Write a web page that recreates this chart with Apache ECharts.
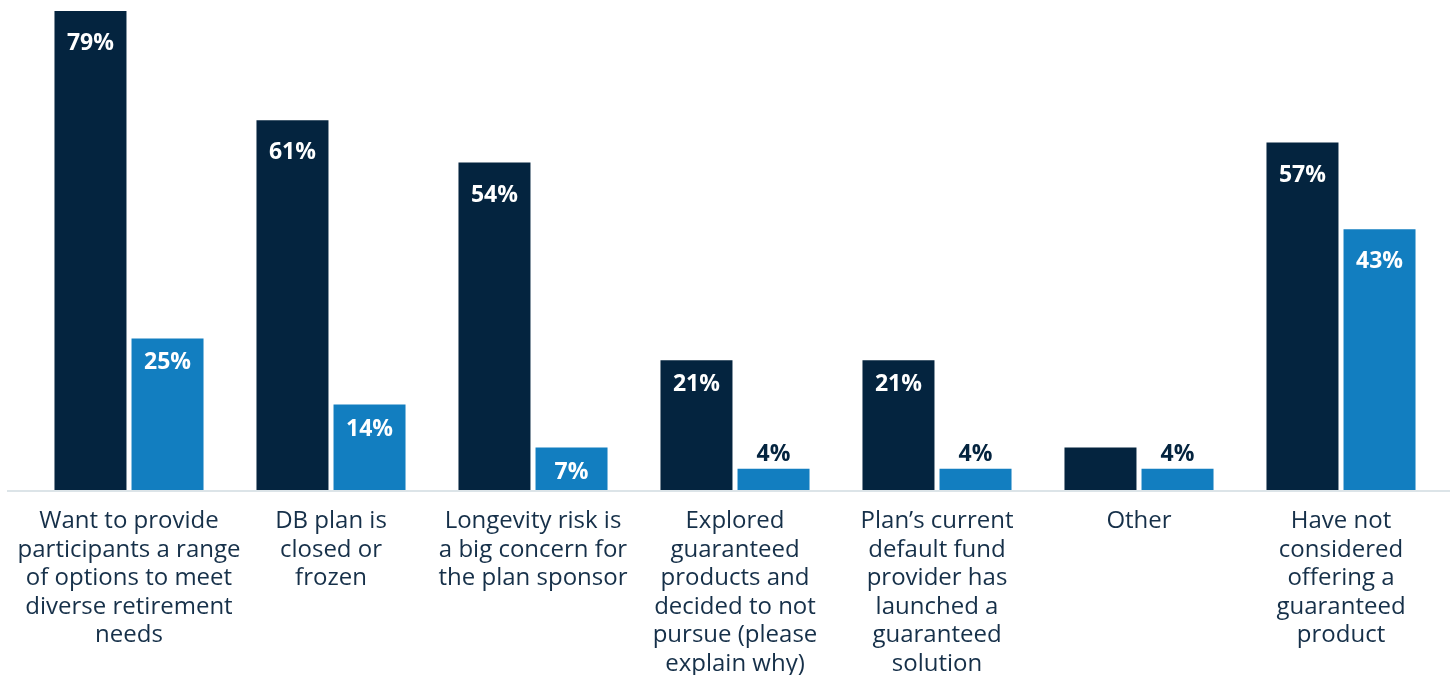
<!DOCTYPE html>
<html><head><meta charset="utf-8">
<script src="https://cdn.jsdelivr.net/npm/echarts@6/dist/echarts.min.js"></script>
<style>html,body{margin:0;padding:0;background:#fff}#c{width:1450px;height:675px}</style>
</head><body><div id="c"></div>
<script>
const categories = [
  "Want to provide\nparticipants a range\nof options to meet\ndiverse retirement\nneeds",
  "DB plan is\nclosed or\nfrozen",
  "Longevity risk is\na big concern for\nthe plan sponsor",
  "Explored\nguaranteed\nproducts and\ndecided to not\npursue (please\nexplain why)",
  "Plan\u2019s current\ndefault fund\nprovider has\nlaunched a\nguaranteed\nsolution",
  "Other",
  "Have not\nconsidered\noffering a\nguaranteed\nproduct"
];
const seriesA = [79, 61, 54, 21.4, 21.4, 7, 57.3];
const seriesB = [25, 14.1, 7, 3.5, 3.5, 3.5, 43];
const hiddenLabelsA = [5]; // "Other" dark bar shows no label

const DARK = '#04243F', BLUE = '#127EC0';
const FONT = '"Open Sans", "Noto Sans", sans-serif';

function items(vals, hidden) {
  return vals.map((v, i) => {
    const small = v < 5;
    return {
      value: v,
      label: {
        show: !(hidden || []).includes(i),
        position: small ? 'top' : 'insideTop',
        distance: small ? 3 : (v < 30 ? 13 : 21),
        color: small ? DARK : '#ffffff'
      }
    };
  });
}

const labelStyle = {formatter: p => Math.round(p.value) + '%', fontFamily: FONT, fontWeight: 'bold', fontSize: 23};

const chart = echarts.init(document.getElementById('c'), null, {renderer: 'canvas'});
chart.setOption({
  animation: false,
  grid: {left: 28, right: 8, top: 11, bottom: 185, containLabel: false, outerBoundsMode: 'none'},
  xAxis: {
    type: 'category', data: categories,
    axisLine: {show: false}, axisTick: {show: false},
    axisLabel: {interval: 0, color: '#163049', fontFamily: FONT, fontSize: 24, lineHeight: 28.5, margin: 17}
  },
  yAxis: {type: 'value', min: 0, max: 79, show: false, splitLine: {show: false}},
  graphic: [{
    type: 'rect', shape: {x: 7, y: 490, width: 1443, height: 2}, style: {fill: '#DCE4E8'}, z: 0
  }],
  series: [
    {type: 'bar', data: items(seriesA, hiddenLabelsA), barWidth: 72, barGap: '7%', itemStyle: {color: DARK},
     label: labelStyle, z: 2},
    {type: 'bar', data: items(seriesB), barWidth: 72, itemStyle: {color: BLUE},
     label: labelStyle, z: 2}
  ]
});
</script></body></html>
